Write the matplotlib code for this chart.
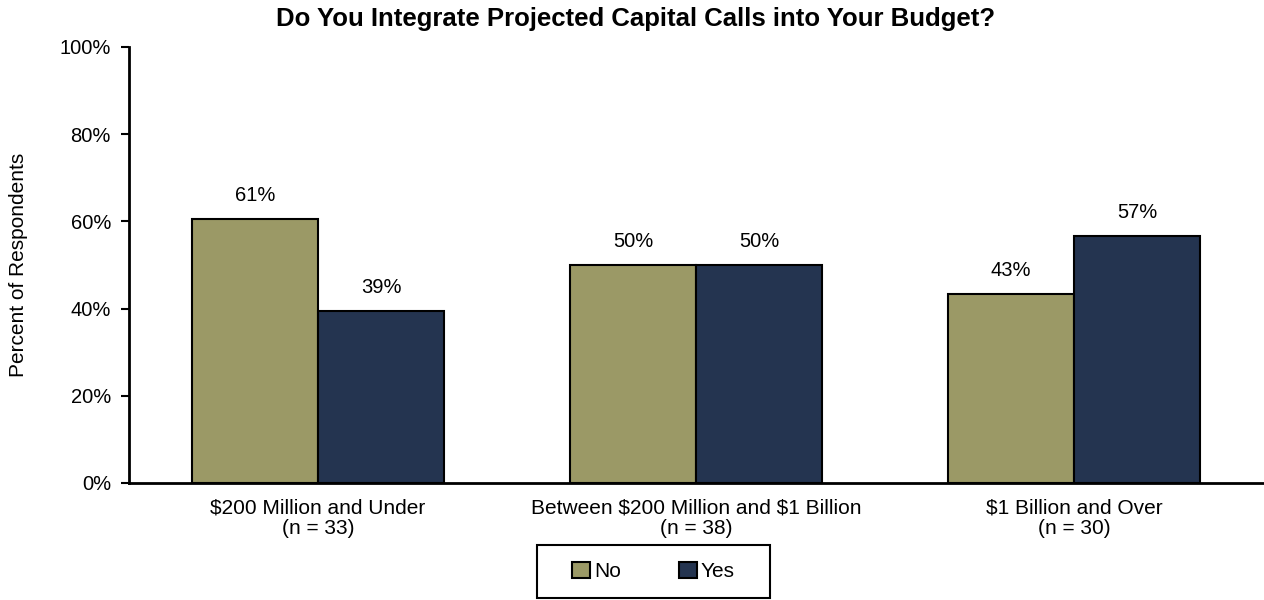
import matplotlib
matplotlib.use("Agg")
import matplotlib.pyplot as plt
import numpy as np
from matplotlib.patches import Patch, Rectangle

plt.rcParams['font.family'] = ['Liberation Sans', 'DejaVu Sans']

categories = ["\\$200 Million and Under\n(n = 33)",
              "Between \\$200 Million and \\$1 Billion\n(n = 38)",
              "\\$1 Billion and Over\n(n = 30)"]
series_names = ["No", "Yes"]
no_values = [60.6, 50.0, 43.3]
yes_values = [39.4, 50.0, 56.7]
y_ticks = [0, 20, 40, 60, 80, 100]
colors = ["#9B9966", "#243450"]

W, H = 1264, 600
fig = plt.figure(figsize=(W / 100, H / 100), dpi=100)
ax = fig.add_axes([129 / W, 117 / H, 1134 / W, 436 / H])

x = np.arange(len(categories))
width = 1 / 3
for offset, vals, color in ((-width / 2, no_values, colors[0]),
                            (width / 2, yes_values, colors[1])):
    bars = ax.bar(x + offset, vals, width, color=color, edgecolor="black",
                  linewidth=1.5, zorder=2)
    for b, v in zip(bars, vals):
        ax.annotate(f"{v:.0f}%", (b.get_x() + b.get_width() / 2, v),
                    xytext=(0, 17), textcoords="offset points",
                    ha="center", va="center", fontsize=14.5)

ax.set_xlim(-0.5, 2.5)
ax.set_ylim(0, 100)
ax.set_yticks(y_ticks)
ax.set_yticklabels([f"{t}%" for t in y_ticks], fontsize=14.5)
ax.set_xticks(x)
ax.set_xticklabels(categories, fontsize=15, linespacing=1.12)
ax.tick_params(axis="x", length=0, pad=11)
ax.tick_params(axis="y", length=6, width=1.5, direction="out", pad=7)
for s in ("top", "right"):
    ax.spines[s].set_visible(False)
for s in ("left", "bottom"):
    ax.spines[s].set_linewidth(2)

ax.set_ylabel("Percent of Respondents", fontsize=15)
ax.yaxis.set_label_coords((28 - 129) / 1134, 0.5)

fig.text(636 / W, 1 - 19 / H,
         "Do You Integrate Projected Capital Calls into Your Budget?",
         ha="center", va="center", fontsize=18.5, fontweight="bold")

# legend entries, framed by a fixed-size box
handles = [Patch(facecolor=c, edgecolor="black", linewidth=1.5) for c in colors]
leg = fig.legend(handles, series_names, loc="center",
                 bbox_to_anchor=(653.5 / W, 1 - 571.5 / H), ncol=2,
                 fontsize=15, frameon=False, handlelength=0.85,
                 handleheight=0.85, handletextpad=0.2, columnspacing=2.8)
fig.patches.append(Rectangle((537 / W, 1 - 598 / H), 233 / W, 53 / H,
                             transform=fig.transFigure, fill=False,
                             edgecolor="black", linewidth=1.5))

fig.savefig("out.png", dpi=100)
